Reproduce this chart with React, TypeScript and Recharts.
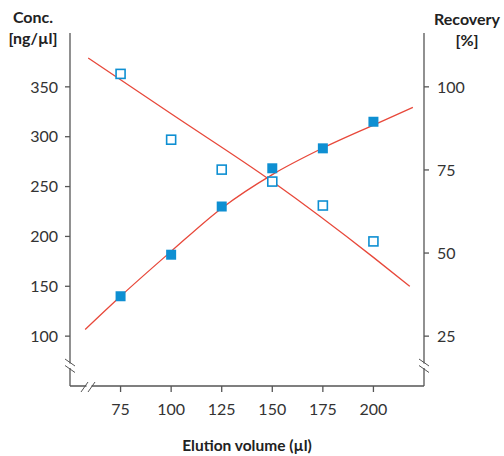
import React from "react";
import { ComposedChart, Line, Scatter, XAxis, YAxis } from "recharts";

// elution volume (µl) of the measured samples
const VOLUMES = [75, 100, 125, 150, 175, 200];
// concentration, ng/µl (open squares, left axis)
const CONC = [363, 297, 267, 255, 231, 195];
// recovery, % (filled squares, right axis)
const RECOVERY = [37, 49.5, 64, 75.5, 81.5, 89.5];

// fitted trend lines
const CONC_FIT_X = [59, 100, 150, 200, 218];
const CONC_FIT = [379, 323, 255, 179, 150];
const REC_FIT_X = [57.5, 75, 100, 125, 150, 175, 200, 219.5];
const REC_FIT = [27, 37, 50.5, 63.5, 73.6, 81.6, 88.5, 93.8];

const X_TICKS = [75, 100, 125, 150, 175, 200];
const CONC_TICKS = [100, 150, 200, 250, 300, 350];
const REC_TICKS = [25, 50, 75, 100];

const BLUE = "#0e8fd2";
const RED = "#e8483a";
const AXIS = "#555";
const FONT = "Lato, 'Open Sans', sans-serif";

const toPoints = (xs: number[], ys: number[]) => xs.map((x, i) => ({ x, y: ys[i] }));

const concData = toPoints(VOLUMES, CONC);
const recData = toPoints(VOLUMES, RECOVERY);
const concFit = toPoints(CONC_FIT_X, CONC_FIT);
const recFit = toPoints(REC_FIT_X, REC_FIT);

const OpenSquare = (props: any) => (
  <rect x={props.cx - 4.5} y={props.cy - 4.5} width={9} height={9} fill="#fff" stroke={BLUE} strokeWidth={1.6} />
);
const FilledSquare = (props: any) => (
  <rect x={props.cx - 5} y={props.cy - 5} width={10} height={10} fill={BLUE} />
);

const tick = { fill: "#333", fontSize: 16, fontFamily: FONT };

export default function App() {
  return (
    <div style={{ position: "absolute", left: 0, top: 0, width: 504, height: 456, background: "#fff" }}>
      <ComposedChart width={504} height={456} margin={{ top: 33, right: 20, bottom: 30, left: 10 }}>
        <XAxis
          dataKey="x"
          type="number"
          domain={[50, 225]}
          ticks={X_TICKS}
          allowDataOverflow
          height={40}
          stroke={AXIS}
          strokeWidth={1.3}
          tickSize={6}
          tickMargin={12}
          tick={tick}
        />
        <YAxis
          yAxisId="left"
          dataKey="y"
          type="number"
          domain={[50, 404]}
          ticks={CONC_TICKS}
          allowDataOverflow
          width={60}
          stroke={AXIS}
          strokeWidth={1.3}
          tickSize={5}
          tickMargin={7}
          tick={tick}
        />
        <YAxis
          yAxisId="right"
          orientation="right"
          dataKey="y"
          type="number"
          domain={[10, 116.2]}
          ticks={REC_TICKS}
          allowDataOverflow
          width={60}
          stroke={AXIS}
          strokeWidth={1.3}
          tickSize={5}
          tickMargin={8}
          tick={tick}
        />
        <Line
          yAxisId="left"
          data={concFit}
          dataKey="y"
          type="monotone"
          stroke={RED}
          strokeWidth={1.3}
          dot={false}
          activeDot={false}
          isAnimationActive={false}
        />
        <Line
          yAxisId="right"
          data={recFit}
          dataKey="y"
          type="monotone"
          stroke={RED}
          strokeWidth={1.3}
          dot={false}
          activeDot={false}
          isAnimationActive={false}
        />
        <Scatter yAxisId="left" data={concData} dataKey="y" shape={OpenSquare} isAnimationActive={false} />
        <Scatter yAxisId="right" data={recData} dataKey="y" shape={FilledSquare} isAnimationActive={false} />
      </ComposedChart>

      <svg width={504} height={456} style={{ position: "absolute", left: 0, top: 0, pointerEvents: "none" }}>
        {/* axis breaks */}
        <rect x={67} y={363.5} width={6} height={4.5} fill="#fff" />
        <line x1={65} y1={359} x2={75} y2={366} stroke={AXIS} strokeWidth={1} />
        <line x1={65} y1={365.5} x2={75} y2={372.5} stroke={AXIS} strokeWidth={1} />
        <rect x={421} y={363.5} width={6} height={4.5} fill="#fff" />
        <line x1={419} y1={359} x2={429} y2={366} stroke={AXIS} strokeWidth={1} />
        <line x1={419} y1={365.5} x2={429} y2={372.5} stroke={AXIS} strokeWidth={1} />
        <rect x={86.5} y={383} width={5} height={6} fill="#fff" />
        <line x1={81} y1={392} x2={88} y2={382} stroke={AXIS} strokeWidth={1} />
        <line x1={88} y1={392} x2={95} y2={382} stroke={AXIS} strokeWidth={1} />

        <g fontFamily={FONT} fontWeight={700} fill="#222" textAnchor="middle">
          <text x={33} y={23} fontSize={16}>Conc.</text>
          <text x={33} y={44} fontSize={16}>[ng/µl]</text>
          <text x={467} y={25} fontSize={16}>Recovery</text>
          <text x={467} y={46} fontSize={16}>[%]</text>
          <text x={247} y={451} fontSize={15.5}>Elution volume (µl)</text>
        </g>
      </svg>
    </div>
  );
}
